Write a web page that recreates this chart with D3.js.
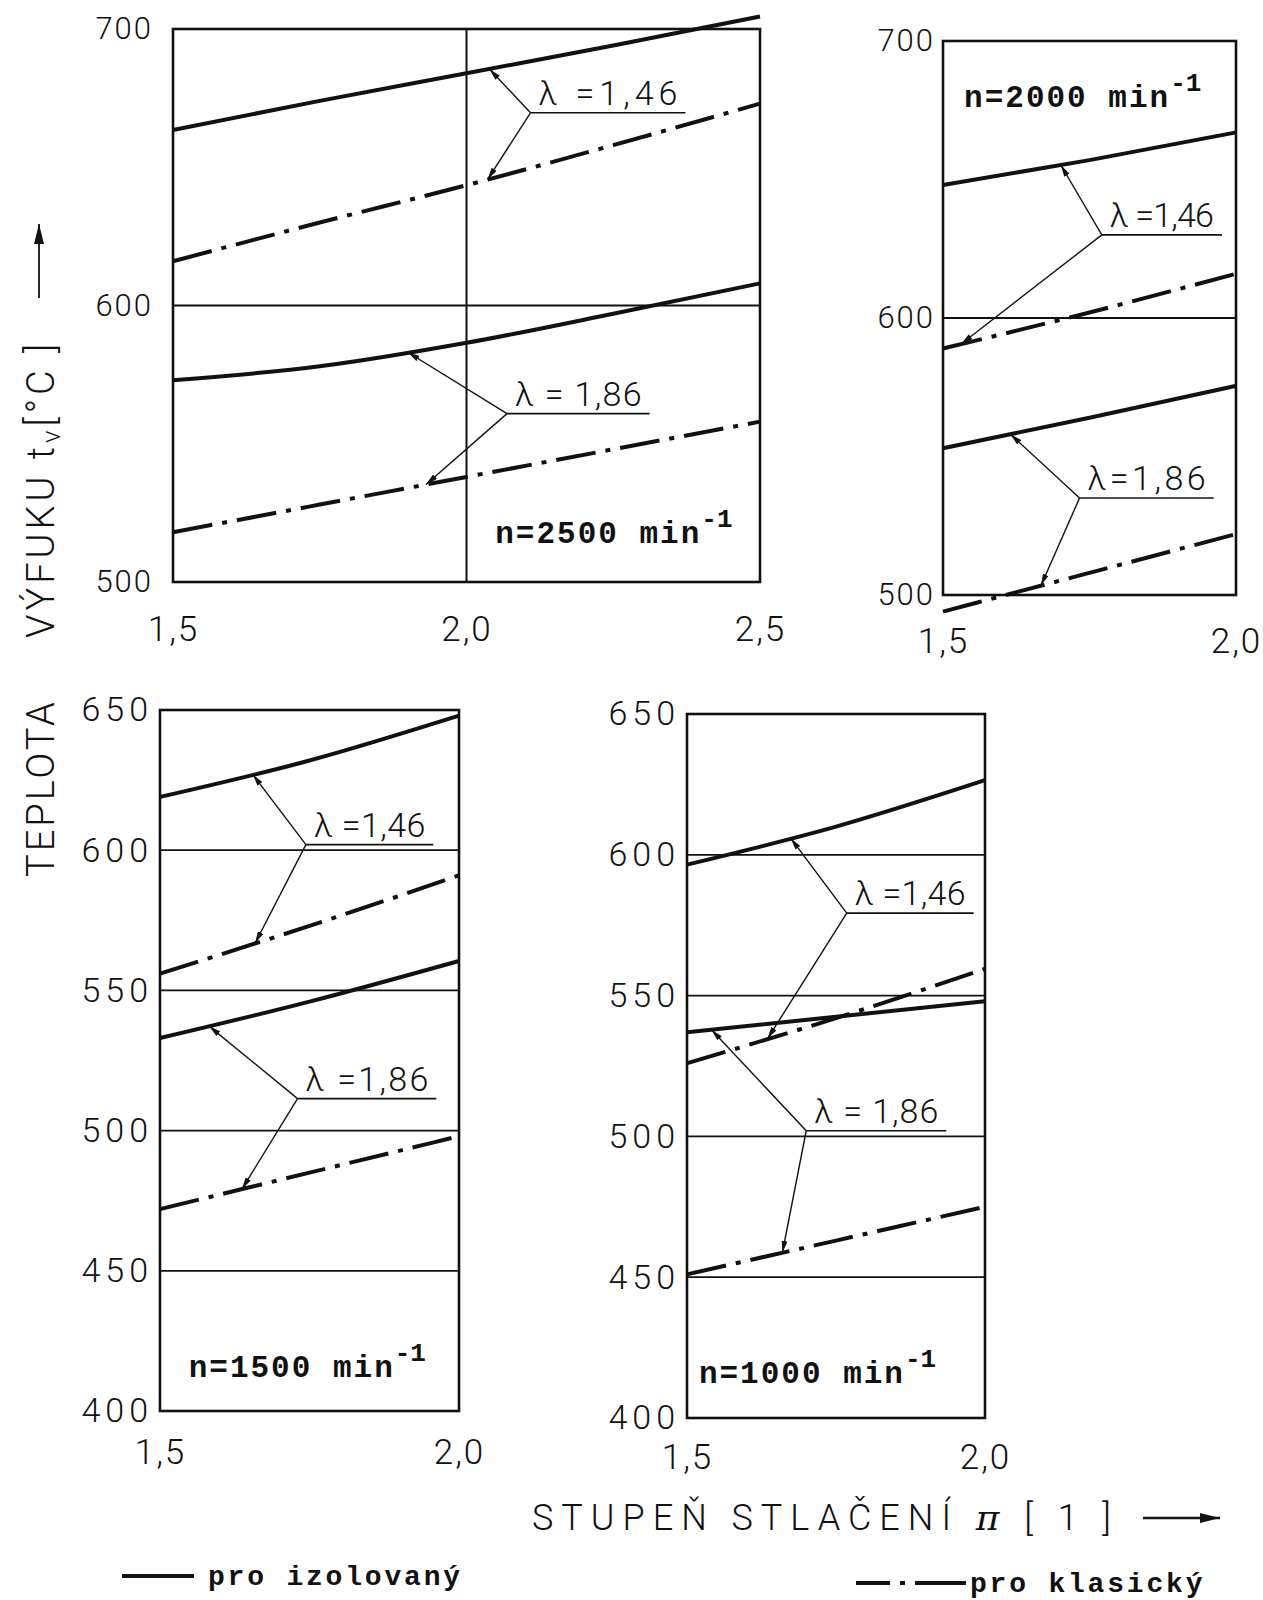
<!DOCTYPE html>
<html>
<head>
<meta charset="UTF-8">
<title>Teplota výfuku</title>
<script src="https://cdnjs.cloudflare.com/ajax/libs/d3/7.8.5/d3.min.js"></script>
<style>
  body { margin: 0; background: #fff; }
  svg text { fill: #111; }
  .tick text { font-family: Roboto, "DejaVu Sans", sans-serif; font-weight: 300; }
</style>
</head>
<body>
<div id="chart"></div>
<script>
// values (°C), x = stupen stlaceni
var piA = [1.5, 1.75, 2.0, 2.25, 2.5];
var izo146A = [663.5, 674, 684, 694, 704.5];
var kla146A = [616, 630, 643.5, 658, 673];
var izo186A = [573, 578, 586.5, 597, 608];
var kla186A = [518, 528, 538, 548, 558];

var piB = [1.5, 1.75, 2.0];
var izo146B = [648, 657, 667];
var kla146B = [589, 602, 616];
var izo186B = [553, 564, 575.5];
var kla186B = [494, 508, 522];

var piC = [1.5, 1.75, 2.0];
var izo146C = [619, 632, 648];
var kla146C = [556, 573, 591];
var izo186C = [533, 546, 560.5];
var kla186C = [472, 485, 498];

var piD = [1.5, 1.75, 2.0];
var izo146D = [596.5, 610, 626.5];
var kla146D = [526, 542, 559.5];
var izo186D = [537, 542.5, 548];
var kla186D = [451, 463, 475];

var xTicksWide = [1.5, 2.0, 2.5];
var xTicksNarrow = [1.5, 2.0];
var yTicksTop = [500, 600, 700];
var yTicksBottom = [400, 450, 500, 550, 600, 650];

var fmt = function(d) { return d3.format(".1f")(d).replace(".", ","); };

var svg = d3.select("#chart").append("svg")
  .attr("width", 1263)
  .attr("height", 1600);

var defs = svg.append("defs");
defs.append("marker")
  .attr("id", "arr")
  .attr("viewBox", "0 0 12 6")
  .attr("refX", 12).attr("refY", 3)
  .attr("markerWidth", 12).attr("markerHeight", 6)
  .attr("markerUnits", "userSpaceOnUse")
  .attr("orient", "auto")
  .append("path").attr("d", "M0,0L12,3L0,6z").attr("fill", "#111");
defs.append("marker")
  .attr("id", "bigarr")
  .attr("viewBox", "0 0 20 10")
  .attr("refX", 20).attr("refY", 5)
  .attr("markerWidth", 20).attr("markerHeight", 10)
  .attr("markerUnits", "userSpaceOnUse")
  .attr("orient", "auto")
  .append("path").attr("d", "M0,0L20,5L0,10z").attr("fill", "#111");

var DASHDOT = "40,10,5,10";

// panel layout, annotations in data units
var panels = [
  { left: 173, right: 760, top: 29, bottom: 582, xd: [1.5, 2.5], yd: [500, 700],
    xt: xTicksWide, yt: yTicksTop, xpad: 34, ypad: 20, hgrid: [600], vgrid: [2.0], fs: 31, ls: 2,
    pi: piA, series: [izo146A, kla146A, izo186A, kla186A],
    notes: [
      { t: "\u03bb =1,46", jx: 2.109, jy: 669.7, ux: 2.373, s: 2.039, d: 2.036 },
      { t: "\u03bb = 1,86", jx: 2.069, jy: 560.9, ux: 2.312, s: 1.90, d: 1.931 }
    ],
    n: { t: "n=2500 min", x: 2.049, y: 514 } },
  { left: 943, right: 1236, top: 41, bottom: 595, xd: [1.5, 2.0], yd: [500, 700],
    xt: xTicksNarrow, yt: yTicksTop, xpad: 33, ypad: 8, hgrid: [600], vgrid: [], fs: 31, ls: 2,
    pi: piB, series: [izo146B, kla146B, izo186B, kla186B],
    notes: [
      { t: "\u03bb =1,46", jx: 1.771, jy: 630, ux: 1.976, s: 1.701, d: 1.531 },
      { t: "\u03bb=1,86", jx: 1.733, jy: 535, ux: 1.962, s: 1.615, d: 1.667 }
    ],
    n: { t: "n=2000 min", x: 1.536, y: 676 } },
  { left: 160, right: 459, top: 710, bottom: 1411, xd: [1.5, 2.0], yd: [400, 650],
    xt: xTicksNarrow, yt: yTicksBottom, xpad: 28, ypad: 7, hgrid: [450, 500, 550, 600], vgrid: [], fs: 34, ls: 5,
    pi: piC, series: [izo146C, kla146C, izo186C, kla186C],
    notes: [
      { t: "\u03bb =1,46", jx: 1.744, jy: 602, ux: 1.957, s: 1.655, d: 1.659 },
      { t: "\u03bb =1,86", jx: 1.730, jy: 511.4, ux: 1.962, s: 1.582, d: 1.637 }
    ],
    n: { t: "n=1500 min", x: 1.548, y: 412 } },
  { left: 687, right: 985, top: 714, bottom: 1418, xd: [1.5, 2.0], yd: [400, 650],
    xt: xTicksNarrow, yt: yTicksBottom, xpad: 26, ypad: 7, hgrid: [450, 500, 550, 600], vgrid: [], fs: 34, ls: 5,
    pi: piD, series: [izo146D, kla146D, izo186D, kla186D],
    notes: [
      { t: "\u03bb =1,46", jx: 1.768, jy: 579.3, ux: 1.981, s: 1.674, d: 1.635 },
      { t: "\u03bb = 1,86", jx: 1.70, jy: 502, ux: 1.935, s: 1.541, d: 1.66 }
    ],
    n: { t: "n=1000 min", x: 1.52, y: 412.5 } }
];

panels.forEach(function(p) {
  var x = d3.scaleLinear().domain(p.xd).range([p.left, p.right]);
  var y = d3.scaleLinear().domain(p.yd).range([p.bottom, p.top]);
  var g = svg.append("g");

  // grid
  g.selectAll(".hg").data(p.hgrid).enter().append("line")
    .attr("x1", x(p.xd[0])).attr("x2", x(p.xd[1]))
    .attr("y1", function(d) { return y(d); }).attr("y2", function(d) { return y(d); })
    .attr("stroke", "#111").attr("stroke-width", 1.8);
  g.selectAll(".vg").data(p.vgrid).enter().append("line")
    .attr("y1", y(p.yd[0])).attr("y2", y(p.yd[1]))
    .attr("x1", function(d) { return x(d); }).attr("x2", function(d) { return x(d); })
    .attr("stroke", "#111").attr("stroke-width", 2);

  // frame
  g.append("rect")
    .attr("x", x(p.xd[0])).attr("y", y(p.yd[1]))
    .attr("width", x(p.xd[1]) - x(p.xd[0])).attr("height", y(p.yd[0]) - y(p.yd[1]))
    .attr("fill", "none").attr("stroke", "#111").attr("stroke-width", 2.6);

  // axes (labels only)
  var ya = g.append("g").attr("transform", "translate(" + p.left + ",0)")
    .call(d3.axisLeft(y).tickValues(p.yt).tickSize(0).tickPadding(p.ypad).tickFormat(d3.format("d")));
  ya.select(".domain").remove();
  ya.selectAll("text").attr("font-size", p.fs).attr("letter-spacing", p.ls);

  var xa = g.append("g").attr("transform", "translate(0," + p.bottom + ")")
    .call(d3.axisBottom(x).tickValues(p.xt).tickSize(0).tickPadding(p.xpad).tickFormat(fmt));
  xa.select(".domain").remove();
  xa.selectAll("text").attr("font-size", 35).attr("letter-spacing", 2);

  // curves: izolovany solid, klasicky dash-dot
  var line = d3.line()
    .x(function(d, i) { return x(p.pi[i]); })
    .y(function(d) { return y(d); })
    .curve(d3.curveMonotoneX);
  p.series.forEach(function(s, k) {
    g.append("path").datum(s)
      .attr("d", line)
      .attr("fill", "none").attr("stroke", "#111").attr("stroke-width", 4)
      .attr("stroke-dasharray", k % 2 ? DASHDOT : null);
  });

  // leader lines + labels
  p.notes.forEach(function(nt, k) {
    var solid = d3.scaleLinear().domain(p.pi).range(p.series[k * 2]);
    var dash = d3.scaleLinear().domain(p.pi).range(p.series[k * 2 + 1]);
    var jx = x(nt.jx), jy = y(nt.jy), ue = x(nt.ux);
    g.append("line").attr("x1", jx).attr("y1", jy).attr("x2", ue).attr("y2", jy)
      .attr("stroke", "#111").attr("stroke-width", 1.6);
    [[nt.s, solid], [nt.d, dash]].forEach(function(t) {
      g.append("line")
        .attr("x1", jx).attr("y1", jy)
        .attr("x2", x(t[0])).attr("y2", y(t[1](t[0])))
        .attr("stroke", "#111").attr("stroke-width", 1.4)
        .attr("marker-end", "url(#arr)");
    });
    g.append("text")
      .attr("x", jx + 8).attr("y", jy - 8)
      .attr("font-family", "Roboto, sans-serif").attr("font-weight", 300)
      .attr("font-size", 34)
      .attr("textLength", ue - jx - 16).attr("lengthAdjust", "spacing")
      .text(nt.t);
  });

  // speed label
  var nt = g.append("text")
    .attr("x", x(p.n.x)).attr("y", y(p.n.y))
    .attr("font-family", "'Liberation Mono', monospace").attr("font-weight", "bold")
    .attr("font-size", 31).attr("letter-spacing", 2);
  nt.append("tspan").text(p.n.t);
  nt.append("tspan").attr("dy", -16).attr("font-size", 26).attr("letter-spacing", 0).text("-1");
});

// y axis title (vertical)
var yt = svg.append("g").attr("transform", "translate(54,0) rotate(-90)");
yt.append("text").attr("x", -877).attr("y", 0)
  .attr("font-family", "Roboto, sans-serif").attr("font-weight", 300)
  .attr("font-size", 38).attr("letter-spacing", 3)
  .text("TEPLOTA");
var yt2 = yt.append("text").attr("x", -638).attr("y", 0)
  .attr("font-family", "Roboto, sans-serif").attr("font-weight", 300)
  .attr("font-size", 38).attr("letter-spacing", 4);
yt2.append("tspan").text("VÝFUKU  t");
yt2.append("tspan").attr("dy", 6).attr("font-size", 26).text("v");
yt2.append("tspan").attr("dy", -6).text("[°C ]");
svg.append("line").attr("x1", 39).attr("x2", 39).attr("y1", 298).attr("y2", 224)
  .attr("stroke", "#111").attr("stroke-width", 1.8).attr("marker-end", "url(#bigarr)");

// x axis title
svg.append("text").attr("x", 532).attr("y", 1530)
  .attr("font-family", "Roboto, sans-serif").attr("font-weight", 300)
  .attr("font-size", 36).attr("letter-spacing", 8)
  .html("STUPEŇ  STLAČENÍ  <tspan font-family='DejaVu Serif' font-style='italic'>π</tspan>  [ 1 ]");
svg.append("line").attr("x1", 1143).attr("x2", 1220).attr("y1", 1518).attr("y2", 1518)
  .attr("stroke", "#111").attr("stroke-width", 2.5).attr("marker-end", "url(#bigarr)");

// legend
svg.append("line").attr("x1", 122).attr("x2", 194).attr("y1", 1576).attr("y2", 1576)
  .attr("stroke", "#111").attr("stroke-width", 4);
svg.append("text").attr("x", 208).attr("y", 1585)
  .attr("font-family", "'Liberation Mono', monospace").attr("font-weight", "bold")
  .attr("font-size", 28).attr("letter-spacing", 2.8)
  .text("pro izolovaný");
svg.append("line").attr("x1", 856).attr("x2", 966).attr("y1", 1583).attr("y2", 1583)
  .attr("stroke", "#111").attr("stroke-width", 4).attr("stroke-dasharray", "34,10,5,10,60");
svg.append("text").attr("x", 970).attr("y", 1592)
  .attr("font-family", "'Liberation Mono', monospace").attr("font-weight", "bold")
  .attr("font-size", 28).attr("letter-spacing", 2.8)
  .text("pro klasický");
</script>
</body>
</html>
